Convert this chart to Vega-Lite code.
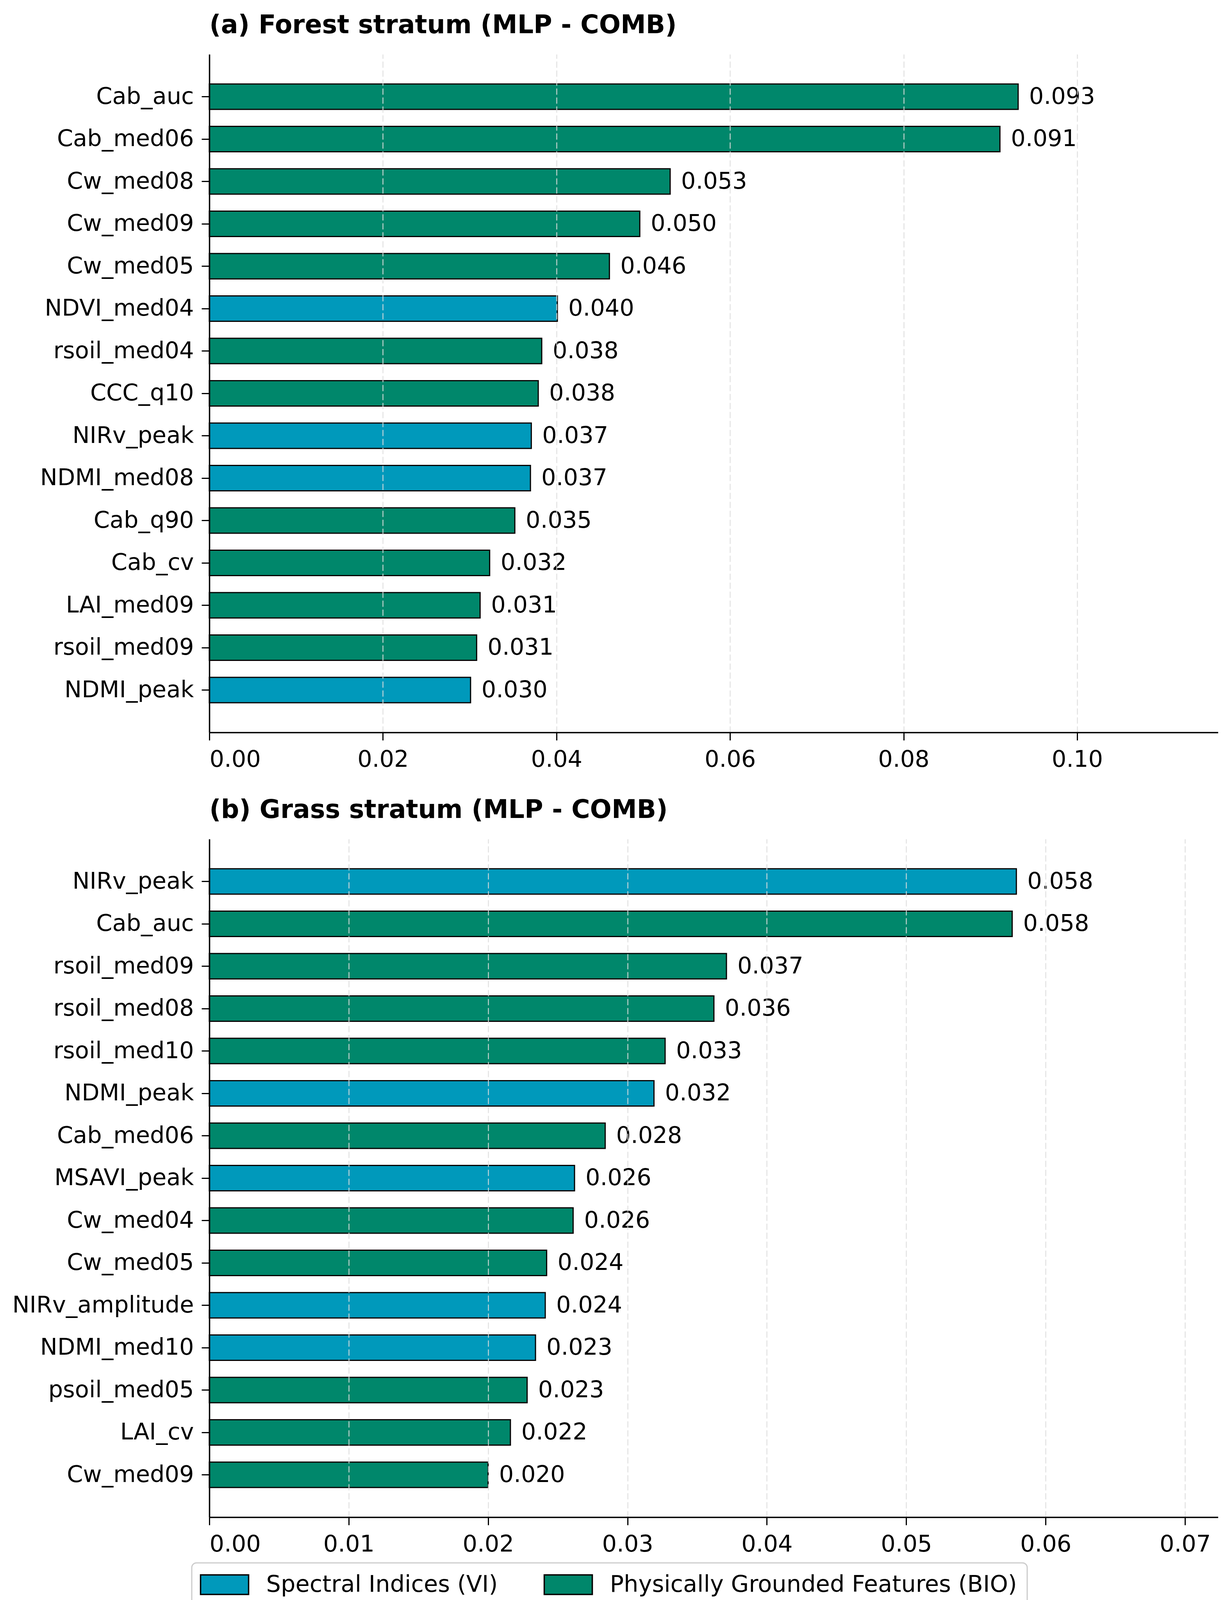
{
  "$schema": "https://vega.github.io/schema/vega-lite/v6.json",
  "background": "white",
  "padding": {"left": 30, "top": 33, "right": 0, "bottom": 0},
  "config": {
    "font": "DejaVu Sans",
    "view": {"stroke": null},
    "axis": {
      "labelFont": "DejaVu Sans",
      "labelFontSize": 59,
      "labelColor": "black",
      "labelLimit": 0,
      "domainColor": "black",
      "domainWidth": 3.5,
      "tickColor": "black",
      "tickWidth": 3,
      "tickSize": 20,
      "labelPadding": 20,
      "title": null
    },
    "title": {
      "font": "DejaVu Sans",
      "fontSize": 65,
      "fontWeight": "bold",
      "anchor": "start",
      "frame": "group",
      "offset": 40,
      "color": "black"
    },
    "legend": {
      "orient": "none",
      "legendX": -45,
      "legendY": 3862,
      "direction": "horizontal",
      "labelFont": "DejaVu Sans",
      "labelFontSize": 59,
      "labelColor": "black",
      "labelLimit": 0,
      "symbolType": "M-2.46,-1H2.46V1H-2.46Z",
      "symbolSize": 2500,
      "symbolOffset": 28.5,
      "symbolStrokeColor": "black",
      "symbolStrokeWidth": 3.5,
      "symbolOpacity": 1,
      "strokeColor": "#cccccc",
      "strokeWidth": 3,
      "cornerRadius": 12,
      "padding": 26,
      "columnPadding": 111,
      "labelOffset": 77,
      "fillColor": "white"
    },
    "concat": {"spacing": 68}
  },
  "vconcat": [
    {
      "title": "(a) Forest stratum (MLP - COMB)",
      "width": 2583,
      "height": 1736,
      "data": {
        "values": [
          {"feature": "Cab_auc", "importance": 0.0932, "group": "Physically Grounded Features (BIO)"},
          {"feature": "Cab_med06", "importance": 0.0911, "group": "Physically Grounded Features (BIO)"},
          {"feature": "Cw_med08", "importance": 0.0531, "group": "Physically Grounded Features (BIO)"},
          {"feature": "Cw_med09", "importance": 0.0496, "group": "Physically Grounded Features (BIO)"},
          {"feature": "Cw_med05", "importance": 0.0461, "group": "Physically Grounded Features (BIO)"},
          {"feature": "NDVI_med04", "importance": 0.0401, "group": "Spectral Indices (VI)"},
          {"feature": "rsoil_med04", "importance": 0.0383, "group": "Physically Grounded Features (BIO)"},
          {"feature": "CCC_q10", "importance": 0.0379, "group": "Physically Grounded Features (BIO)"},
          {"feature": "NIRv_peak", "importance": 0.0371, "group": "Spectral Indices (VI)"},
          {"feature": "NDMI_med08", "importance": 0.0370, "group": "Spectral Indices (VI)"},
          {"feature": "Cab_q90", "importance": 0.0352, "group": "Physically Grounded Features (BIO)"},
          {"feature": "Cab_cv", "importance": 0.0323, "group": "Physically Grounded Features (BIO)"},
          {"feature": "LAI_med09", "importance": 0.0312, "group": "Physically Grounded Features (BIO)"},
          {"feature": "rsoil_med09", "importance": 0.0308, "group": "Physically Grounded Features (BIO)"},
          {"feature": "NDMI_peak", "importance": 0.0301, "group": "Spectral Indices (VI)"}
        ]
      },
      "encoding": {
        "y": {
          "field": "feature",
          "type": "nominal",
          "sort": null,
          "scale": {"paddingInner": 0.4, "paddingOuter": 0.7},
          "axis": {"grid": false, "zindex": 2}
        },
        "x": {
          "field": "importance",
          "type": "quantitative",
          "scale": {"domain": [0, 0.11625], "nice": false},
          "axis": {
            "values": [0, 0.02, 0.04, 0.06, 0.08, 0.1],
            "format": ".2f",
            "grid": true,
            "gridColor": "#dddddd",
            "gridOpacity": 0.85,
            "gridWidth": 2.5,
            "gridDash": [16, 7],
            "zindex": 1
          }
        }
      },
      "layer": [
        {
          "mark": {"type": "bar", "stroke": "black", "strokeWidth": 3},
          "encoding": {
            "color": {
              "field": "group",
              "type": "nominal",
              "scale": {
                "domain": ["Spectral Indices (VI)", "Physically Grounded Features (BIO)"],
                "range": ["#0099BB", "#00876B"]
              },
              "legend": {"title": null}
            }
          }
        },
        {
          "mark": {"type": "text", "align": "left", "baseline": "middle", "dx": 28, "fontSize": 59, "color": "black"},
          "encoding": {
            "text": {"field": "importance", "type": "quantitative", "format": ".3f"}
          }
        }
      ]
    },
    {
      "title": "(b) Grass stratum (MLP - COMB)",
      "width": 2583,
      "height": 1736,
      "data": {
        "values": [
          {"feature": "NIRv_peak", "importance": 0.0579, "group": "Spectral Indices (VI)"},
          {"feature": "Cab_auc", "importance": 0.0576, "group": "Physically Grounded Features (BIO)"},
          {"feature": "rsoil_med09", "importance": 0.0371, "group": "Physically Grounded Features (BIO)"},
          {"feature": "rsoil_med08", "importance": 0.0362, "group": "Physically Grounded Features (BIO)"},
          {"feature": "rsoil_med10", "importance": 0.0327, "group": "Physically Grounded Features (BIO)"},
          {"feature": "NDMI_peak", "importance": 0.0319, "group": "Spectral Indices (VI)"},
          {"feature": "Cab_med06", "importance": 0.0284, "group": "Physically Grounded Features (BIO)"},
          {"feature": "MSAVI_peak", "importance": 0.0262, "group": "Spectral Indices (VI)"},
          {"feature": "Cw_med04", "importance": 0.0261, "group": "Physically Grounded Features (BIO)"},
          {"feature": "Cw_med05", "importance": 0.0242, "group": "Physically Grounded Features (BIO)"},
          {"feature": "NIRv_amplitude", "importance": 0.0241, "group": "Spectral Indices (VI)"},
          {"feature": "NDMI_med10", "importance": 0.0234, "group": "Spectral Indices (VI)"},
          {"feature": "psoil_med05", "importance": 0.0228, "group": "Physically Grounded Features (BIO)"},
          {"feature": "LAI_cv", "importance": 0.0216, "group": "Physically Grounded Features (BIO)"},
          {"feature": "Cw_med09", "importance": 0.0200, "group": "Physically Grounded Features (BIO)"}
        ]
      },
      "encoding": {
        "y": {
          "field": "feature",
          "type": "nominal",
          "sort": null,
          "scale": {"paddingInner": 0.4, "paddingOuter": 0.7},
          "axis": {"grid": false, "zindex": 2}
        },
        "x": {
          "field": "importance",
          "type": "quantitative",
          "scale": {"domain": [0, 0.07238], "nice": false},
          "axis": {
            "values": [0, 0.01, 0.02, 0.03, 0.04, 0.05, 0.06, 0.07],
            "format": ".2f",
            "grid": true,
            "gridColor": "#dddddd",
            "gridOpacity": 0.85,
            "gridWidth": 2.5,
            "gridDash": [16, 7],
            "zindex": 1
          }
        }
      },
      "layer": [
        {
          "mark": {"type": "bar", "stroke": "black", "strokeWidth": 3},
          "encoding": {
            "color": {
              "field": "group",
              "type": "nominal",
              "scale": {
                "domain": ["Spectral Indices (VI)", "Physically Grounded Features (BIO)"],
                "range": ["#0099BB", "#00876B"]
              },
              "legend": {"title": null}
            }
          }
        },
        {
          "mark": {"type": "text", "align": "left", "baseline": "middle", "dx": 28, "fontSize": 59, "color": "black"},
          "encoding": {
            "text": {"field": "importance", "type": "quantitative", "format": ".3f"}
          }
        }
      ]
    }
  ]
}
